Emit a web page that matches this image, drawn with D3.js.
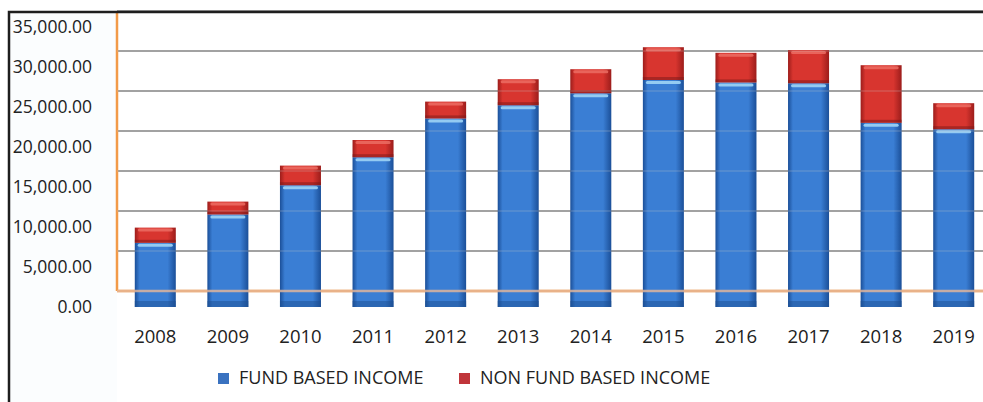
<!DOCTYPE html>
<html>
<head>
<meta charset="utf-8">
<script src="https://cdn.jsdelivr.net/npm/d3@7"></script>
<style>
  body { margin: 0; background: #fff; }
  text { font-family: "Open Sans", sans-serif; fill: #222; }
</style>
</head>
<body>
<svg class="canvas"></svg>
<script>
// *** DATA ***
var years = ["2008", "2009", "2010", "2011", "2012", "2013", "2014", "2015", "2016", "2017", "2018", "2019"];
var fundBased = [7900, 11450, 15100, 18600, 23450, 25100, 26600, 28250, 27950, 27850, 22900, 22100];
var nonFundBased = [1900, 1600, 2450, 2150, 2100, 3250, 3000, 4100, 3700, 4150, 7200, 3250];
var yTicks = [0, 5000, 10000, 15000, 20000, 25000, 30000, 35000];
var seriesNames = ["FUND BASED INCOME", "NON FUND BASED INCOME"];

// *** SVG STUFF ***
// --- Constants ---
var width = 983;
var height = 402;
var wallLeft = 117;
var depth = 15; // offset between front of bars and back wall

var colors = {
  fund: { edge: "#1b4f98", mid: "#3a7ed4", light: "#94cbf2" },
  non: { edge: "#9c1d1b", mid: "#d8352f", light: "#ee7066" }
};

var svg = d3.select(".canvas")
  .attr("width", width)
  .attr("height", height);

// --- Scales ---
var x = d3.scaleBand()
  .domain(years)
  .range([119, 990])
  .paddingInner(0.435)
  .paddingOuter(0.2175);

// front plane (bars + tick labels) and back wall (gridlines)
var yFront = d3.scaleLinear().domain([0, 35000]).range([306, 26]);
var yBack = d3.scaleLinear().domain([0, 35000]).range([306 - depth, 26 - depth]);

// --- Gradients ---
var defs = svg.append("defs");
function addGradient(id, c) {
  var g = defs.append("linearGradient")
    .attr("id", id)
    .attr("x1", "0%").attr("x2", "100%")
    .attr("y1", "0%").attr("y2", "0%");
  g.append("stop").attr("offset", "0%").attr("stop-color", c.edge);
  g.append("stop").attr("offset", "12%").attr("stop-color", c.mid);
  g.append("stop").attr("offset", "80%").attr("stop-color", c.mid);
  g.append("stop").attr("offset", "100%").attr("stop-color", c.edge);
}
addGradient("grad-fund", colors.fund);
addGradient("grad-non", colors.non);

// --- Frame ---
svg.append("rect")
  .attr("x", 10).attr("y", 13)
  .attr("width", wallLeft - 10).attr("height", height - 13)
  .attr("fill", "#fbfdfe");

// back wall gridlines
svg.append("g").attr("class", "grid")
  .selectAll("line")
  .data(yTicks.filter(function(d) { return d > 0; }))
  .enter()
    .append("line")
    .attr("x1", wallLeft).attr("x2", width)
    .attr("y1", function(d) { return yBack(d); })
    .attr("y2", function(d) { return yBack(d); })
    .attr("stroke", "#7a7a7a")
    .attr("stroke-width", 1.6);

// orange wall + floor
svg.append("line")
  .attr("x1", wallLeft).attr("x2", wallLeft)
  .attr("y1", 12).attr("y2", yBack(0))
  .attr("stroke", "#f29a48").attr("stroke-width", 2.5);
svg.append("line")
  .attr("x1", wallLeft).attr("x2", width)
  .attr("y1", yBack(0)).attr("y2", yBack(0))
  .attr("stroke", "#f29a48").attr("stroke-width", 2.5);

// --- Bars ---
var bars = svg.append("g").attr("class", "bars")
  .selectAll("g")
  .data(years.map(function(yr, i) {
    return { year: yr, fund: fundBased[i], non: nonFundBased[i] };
  }))
  .enter()
    .append("g")
    .attr("transform", function(d) { return "translate(" + x(d.year) + ",0)"; });

var bw = x.bandwidth();

// fund based segment
bars.append("rect")
  .attr("y", function(d) { return yFront(d.fund); })
  .attr("width", bw)
  .attr("height", function(d) { return yFront(0) - yFront(d.fund) + 1; })
  .attr("fill", "url(#grad-fund)");
bars.append("rect")
  .attr("x", 3).attr("width", bw - 6)
  .attr("y", function(d) { return yFront(d.fund) + 1; })
  .attr("height", 3)
  .attr("rx", 1.5)
  .attr("fill", colors.fund.light);
// darker base below floor
bars.append("rect")
  .attr("y", yFront(0) - 5).attr("width", bw).attr("height", 6)
  .attr("fill", "#1d4f92").attr("opacity", 0.5);

// non fund based segment
bars.append("rect")
  .attr("y", function(d) { return yFront(d.fund + d.non); })
  .attr("width", bw)
  .attr("height", function(d) { return yFront(d.fund) - yFront(d.fund + d.non); })
  .attr("fill", "url(#grad-non)");
bars.append("rect")
  .attr("x", 3).attr("width", bw - 6)
  .attr("y", function(d) { return yFront(d.fund + d.non) + 1; })
  .attr("height", 3)
  .attr("rx", 1.5)
  .attr("fill", colors.non.light).attr("opacity", 0.8);
bars.append("rect")
  .attr("y", function(d) { return yFront(d.fund) - 3; })
  .attr("width", bw).attr("height", 3)
  .attr("fill", "#7a1818").attr("opacity", 0.5);

// see-through gridlines + floor over the bars
svg.append("g")
  .selectAll("line")
  .data(yTicks.filter(function(d) { return d > 0; }))
  .enter()
    .append("line")
    .attr("x1", wallLeft).attr("x2", width)
    .attr("y1", function(d) { return yBack(d); })
    .attr("y2", function(d) { return yBack(d); })
    .attr("stroke", "#c8c8c8")
    .attr("stroke-width", 1.2)
    .attr("opacity", 0.35);
svg.append("line")
  .attr("x1", wallLeft).attr("x2", width)
  .attr("y1", yBack(0)).attr("y2", yBack(0))
  .attr("stroke", "#e8b89a").attr("stroke-width", 2.5)
  .attr("opacity", 0.8);

// --- Axes ---
var yAxis = d3.axisLeft(yFront)
  .tickValues(yTicks)
  .tickSize(0)
  .tickPadding(0)
  .tickFormat(d3.format(",.2f"));
svg.append("g")
  .attr("transform", "translate(92,0)")
  .call(yAxis)
  .call(function(g) { g.select(".domain").remove(); })
  .selectAll("text")
    .attr("font-family", "Open Sans, sans-serif")
    .attr("font-size", 17.5)
    .attr("fill", "#222")
    .attr("dy", "0.35em");

var xAxis = d3.axisBottom(x).tickSize(0).tickPadding(0);
svg.append("g")
  .attr("transform", "translate(0,330)")
  .call(xAxis)
  .call(function(g) { g.select(".domain").remove(); })
  .selectAll("text")
    .attr("font-family", "Open Sans, sans-serif")
    .attr("font-size", 18.5)
    .attr("fill", "#222");

// --- Legend ---
var legendX = [218, 459];
var legend = svg.append("g").attr("class", "legend")
  .selectAll("g")
  .data(seriesNames)
  .enter()
    .append("g")
    .attr("transform", function(d, i) { return "translate(" + legendX[i] + ",378)"; });
legend.append("rect")
  .attr("x", 0).attr("y", -5)
  .attr("width", 11).attr("height", 11)
  .attr("fill", function(d, i) { return i == 0 ? "#3a72c0" : "#c0353a"; });
legend.append("text")
  .attr("x", 21)
  .attr("dy", "0.35em")
  .attr("font-size", 18)
  .text(function(d) { return d; });

// --- Border ---
svg.append("path")
  .attr("d", "M9," + height + "V12H" + width)
  .attr("fill", "none")
  .attr("stroke", "#1e1e1e")
  .attr("stroke-width", 2.5);
</script>
</body>
</html>
